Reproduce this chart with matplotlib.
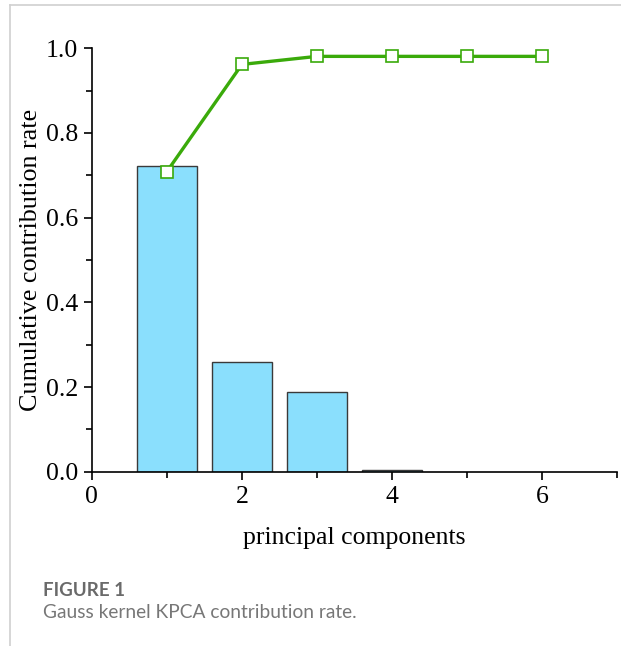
import matplotlib.pyplot as plt
from matplotlib.lines import Line2D
from matplotlib.ticker import MultipleLocator

# principal component index and contribution values
components = [1, 2, 3, 4]
contribution = [0.723, 0.259, 0.189, 0.003]
cum_components = [1, 2, 3, 4, 5, 6]
cumulative = [0.709, 0.962, 0.981, 0.981, 0.981, 0.981]

fig = plt.figure(figsize=(6.21, 6.46), dpi=100)
ax = fig.add_axes([0.148, 0.2698, 0.8456, 0.6554])

serif = 'Liberation Serif'

ax.bar(components, contribution, width=0.8, color='#8adffd',
       edgecolor='#3a3a3a', linewidth=1.0, zorder=2)
ax.plot(cum_components, cumulative, color='#3aaa0a', linewidth=2.4,
        marker='s', markersize=8, markerfacecolor='white',
        markeredgecolor='#3aaa0a', markeredgewidth=1.2, zorder=3)

ax.set_xlim(0, 7)
ax.set_ylim(0, 1.0)
ax.xaxis.set_major_locator(MultipleLocator(2))
ax.xaxis.set_minor_locator(MultipleLocator(1))
ax.yaxis.set_major_locator(MultipleLocator(0.2))
ax.yaxis.set_minor_locator(MultipleLocator(0.1))
ax.set_yticklabels([f"{v:.1f}" for v in ax.get_yticks()])

for s in ['top', 'right']:
    ax.spines[s].set_visible(False)
for s in ['left', 'bottom']:
    ax.spines[s].set_linewidth(1.2)
    ax.spines[s].set_color('black')

ax.tick_params(which='major', direction='out', length=6, width=1.2,
               labelsize=18.5, pad=4)
ax.tick_params(which='minor', direction='out', length=4, width=1.2)
for lab in ax.get_xticklabels() + ax.get_yticklabels():
    lab.set_fontfamily(serif)

ax.set_xlabel('principal components', fontsize=18.5, family=serif, labelpad=14)
ax.set_ylabel('Cumulative contribution rate', fontsize=18.8, family=serif,
              labelpad=3)

# page frame lines
fig.add_artist(Line2D([10 / 621, 1], [1 - 5 / 646, 1 - 5 / 646],
                      color='#d0d0d0', linewidth=1.2))
fig.add_artist(Line2D([10 / 621, 10 / 621], [1 - 5 / 646, 0],
                      color='#d0d0d0', linewidth=1.2))

fig.text(43 / 621, 1 - 590 / 646, 'FIGURE 1', fontsize=13.5, family='Lato',
         fontweight='bold', color='#6a6a6a', va='center')
fig.text(43 / 621, 1 - 612 / 646, 'Gauss kernel KPCA contribution rate.',
         fontsize=13.8, family='Lato', fontweight='normal',
         color='#777777', va='center')

fig.savefig('out.png', dpi=100)
